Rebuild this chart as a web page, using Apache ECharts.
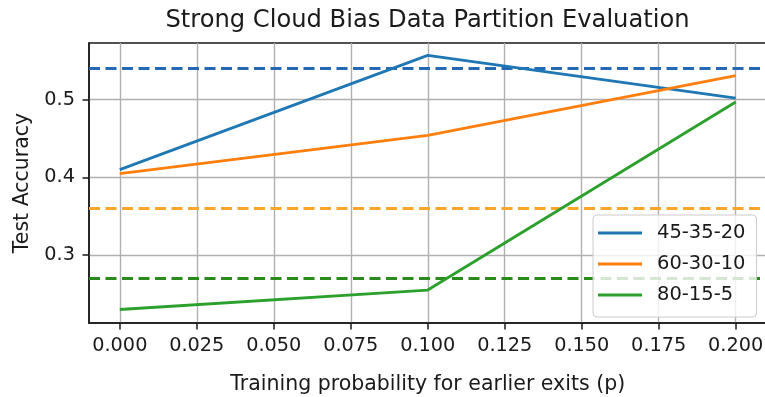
<!DOCTYPE html>
<html>
<head>
<meta charset="utf-8">
<script src="https://cdn.jsdelivr.net/npm/echarts@6/dist/echarts.min.js"></script>
<style>
  html, body { margin: 0; padding: 0; background: #fff; }
  #chart { width: 765px; height: 397px; }
</style>
</head>
<body>
<div id="chart"></div>
<script>
// Training probability for the earlier exits
const probs = [0.0, 0.1, 0.2];

// Test accuracy per data partition
const acc_45_35_20 = [0.410, 0.557, 0.502];
const acc_60_30_10 = [0.405, 0.454, 0.531];
const acc_80_15_5  = [0.230, 0.255, 0.497];

const seriesNames = ['45-35-20', '60-30-10', '80-15-5'];

// Reference accuracies (dashed horizontal lines)
const baselines = [0.5425, 0.3587, 0.2747];

// Tick values
const xTicks = [0.000, 0.025, 0.050, 0.075, 0.100, 0.125, 0.150, 0.175, 0.200];
const yTicks = [0.3, 0.4, 0.5];

const lineColors = ['#1f77b4', '#ff7f0e', '#2ca02c'];
const baseColors = ['#2469b5', '#f9a62b', '#2b8a1c'];

const font = 'DejaVu Sans';
const ink = '#1a1a1a';
const pairs = (ys) => probs.map((p, i) => [p, ys[i]]);
const allSeries = [acc_45_35_20, acc_60_30_10, acc_80_15_5];

const chart = echarts.init(document.getElementById('chart'), null, { renderer: 'canvas' });

const series = allSeries.map((ys, i) => ({
  name: seriesNames[i],
  type: 'line',
  data: pairs(ys),
  symbol: 'none',
  z: 5,
  lineStyle: { color: lineColors[i], width: 2.8 },
  itemStyle: { color: lineColors[i] },
  markLine: {
    silent: true,
    symbol: 'none',
    label: { show: false },
    z: 4,
    lineStyle: { color: baseColors[i], width: 2.8, type: [11, 5.5] },
    emphasis: { disabled: true },
    data: [{ yAxis: baselines[i] }]
  }
}));

chart.setOption({
  animation: false,
  backgroundColor: '#ffffff',
  grid: {
    left: 89, top: 43, width: 677.5, height: 280,
    outerBoundsMode: 'none',
    containLabel: false,
    show: true, borderColor: ink, borderWidth: 1.5, backgroundColor: 'transparent'
  },
  graphic: [{
    type: 'text',
    x: 427.5, y: 21,
    style: {
      text: 'Strong Cloud Bias Data Partition Evaluation',
      font: '24.2px "DejaVu Sans"',
      fill: ink,
      textAlign: 'center',
      textVerticalAlign: 'middle'
    }
  }],
  legend: {
    data: seriesNames,
    orient: 'vertical',
    left: 593, top: 215,
    padding: [8, 11, 12, 5],
    icon: 'rect',
    itemWidth: 44, itemHeight: 2.8, itemGap: 11,
    backgroundColor: 'rgba(255,255,255,0.8)',
    borderColor: '#cccccc', borderWidth: 1, borderRadius: 4,
    textStyle: { fontFamily: font, fontSize: 19.5, color: ink, lineHeight: 19, padding: [0, 0, 0, 10] },
    z: 10
  },
  xAxis: {
    type: 'value',
    min: -0.01, max: 0.21,
    name: 'Training probability for earlier exits (p)',
    nameLocation: 'middle',
    nameGap: 62,
    nameTextStyle: { fontFamily: font, fontSize: 20.5, color: ink, verticalAlign: 'middle' },
    axisLine: { show: true, onZero: false, lineStyle: { color: ink, width: 1.5 } },
    axisTick: { show: true, inside: false, length: 6.5, customValues: xTicks, lineStyle: { color: ink, width: 1.5 } },
    axisLabel: {
      customValues: xTicks, margin: 13,
      fontFamily: font, fontSize: 19.3, color: ink,
      formatter: (v) => v.toFixed(3)
    },
    splitLine: { show: true, lineStyle: { color: '#b0b0b0', width: 1.4 } }
  },
  yAxis: {
    type: 'value',
    min: 0.2126, max: 0.573,
    name: 'Test Accuracy',
    nameLocation: 'middle',
    nameGap: 66.5,
    nameTextStyle: { fontFamily: font, fontSize: 20.5, color: ink, verticalAlign: 'middle' },
    axisLine: { show: true, onZero: false, lineStyle: { color: ink, width: 1.5 } },
    axisTick: { show: true, inside: false, length: 6.5, customValues: yTicks, lineStyle: { color: ink, width: 1.5 } },
    axisLabel: {
      customValues: yTicks, margin: 14,
      fontFamily: font, fontSize: 19.3, color: ink,
      formatter: (v) => v.toFixed(1)
    },
    splitLine: { show: true, lineStyle: { color: '#b0b0b0', width: 1.4 } }
  },
  series: series
});
</script>
</body>
</html>
